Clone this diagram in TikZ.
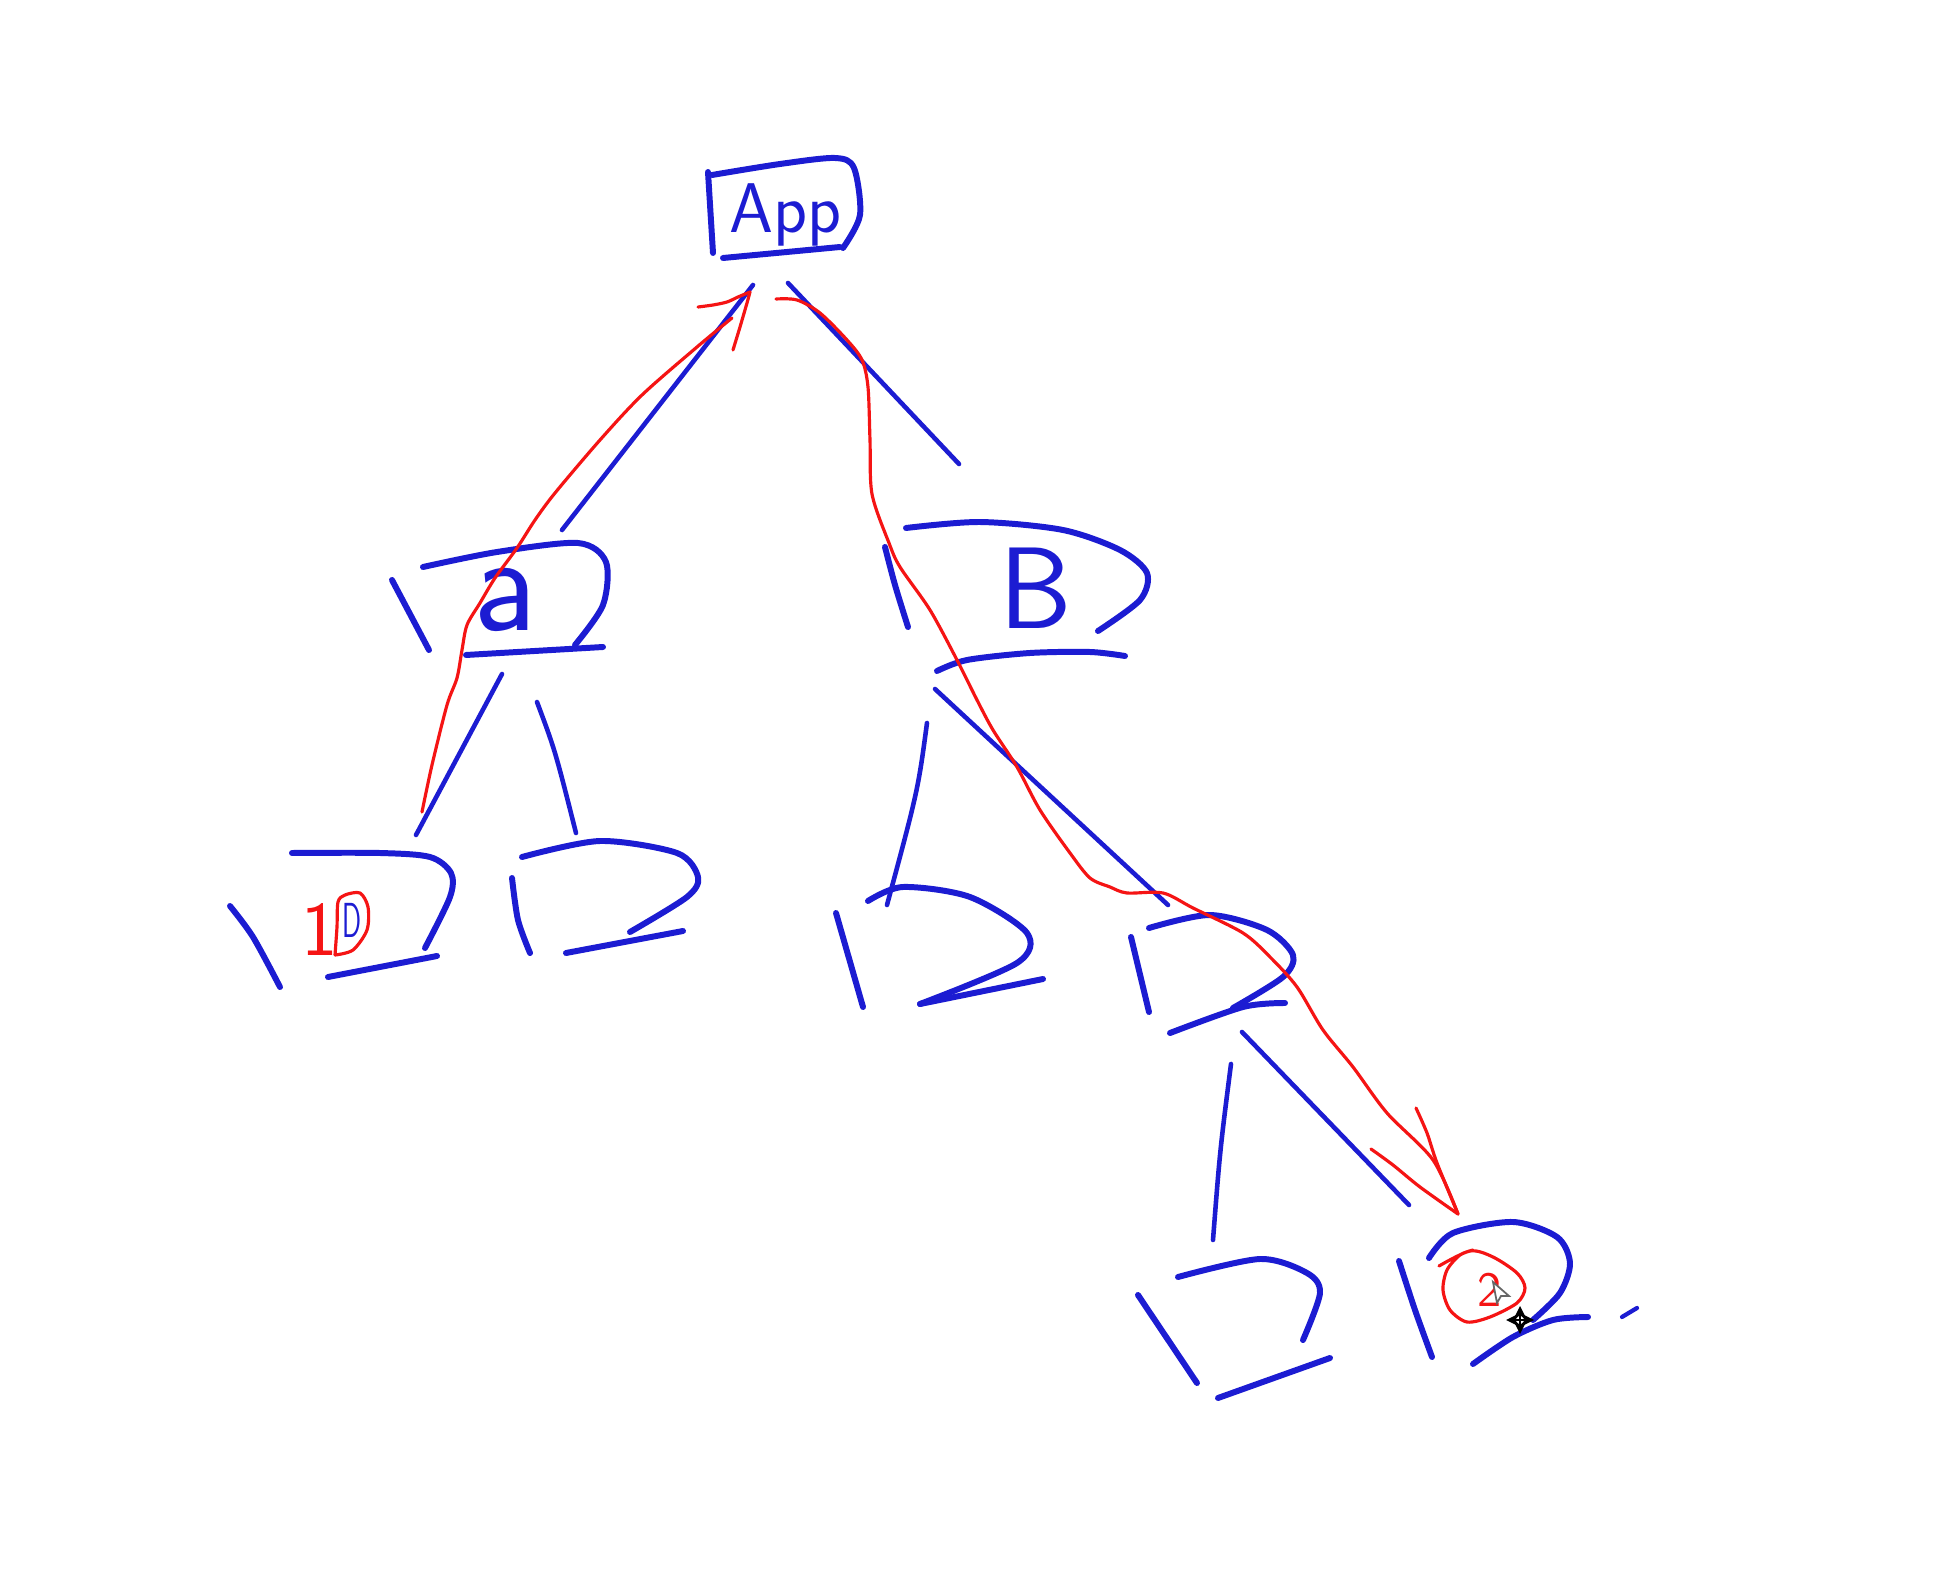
\documentclass[tikz,border=0pt]{standalone}
\definecolor{ink}{RGB}{28,28,210}
\definecolor{pen}{RGB}{245,20,20}
\begin{document}
\begin{tikzpicture}[x=0.01cm,y=-0.01cm,
  box/.style={draw=ink,line width=1.7pt,line cap=round,line join=round},
  edge/.style={draw=ink,line width=1.3pt,line cap=round},
  redpen/.style={draw=pen,line width=0.9pt,line cap=round,line join=round},
  hand/.style={inner sep=0pt,anchor=base,font=\sffamily}]
\useasboundingbox[fill=white] (0,0) rectangle (1935,1579);

% ---------- App ----------
\draw[box] (708,172) -- (713,253);
\draw[box] plot[smooth] coordinates {(712,175) (780,164) (835,158) (854,168) (860,215) (843,248)};
\draw[box] (723,258) -- (840,247);
\node[hand,text=ink,font=\sffamily\fontsize{20}{24}\selectfont] (app) at (786,233) {App};

% ---------- A ----------
\draw[box] (392,580) -- (429,650);
\draw[box] plot[smooth] coordinates {(423,567) (497,552) (578,543) (606,562) (603,605) (575,645)};
\draw[box] (466,655) -- (603,647);
\node[hand,text=ink,font=\sffamily\fontsize{40}{44}\selectfont] (a) at (505,630) {a};

% ---------- B ----------
\draw[box] plot[smooth] coordinates {(885,547) (895,585) (908,627)};
\draw[box] plot[smooth] coordinates {(906,528) (980,522) (1063,530) (1120,550) (1147,573) (1140,600) (1098,631)};
\draw[box] plot[smooth] coordinates {(937,671) (967,660) (1030,653) (1090,652) (1125,656)};
\node[hand,text=ink,font=\sffamily\fontsize{33}{38}\selectfont] (b) at (1036,628) {B};

% ---------- leaf D (under A, left) ----------
\draw[box] plot[smooth] coordinates {(230,906) (253,937) (280,987)};
\draw[box] plot[smooth] coordinates {(292,853) (380,853) (430,857) (451,873) (450,897) (425,948)};
\draw[box] (328,977) -- (437,956);
\node[hand,text=ink,font=\sffamily\fontsize{14}{16}\selectfont] (d) at (352,937) {\scalebox{0.55}[1]{D}};

% ---------- leaf under A, right ----------
\draw[box] plot[smooth] coordinates {(512,878) (518,920) (530,953)};
\draw[box] plot[smooth] coordinates {(522,857) (600,841) (677,853) (698,877) (687,897) (630,932)};
\draw[box] (566,953) -- (683,931);

% ---------- leaf under B, left ----------
\draw[box] (836,913) -- (863,1007);
\draw[box] plot[smooth] coordinates {(868,901) (903,887) (970,897) (1027,933) (1017,963) (920,1004)};
\draw[box] (920,1004) -- (1043,979);

% ---------- node under B, right ----------
\draw[box] (1131,937) -- (1149,1012);
\draw[box] plot[smooth] coordinates {(1149,928) (1210,915) (1267,930) (1293,955) (1283,977) (1233,1008)};
\draw[box] plot[smooth] coordinates {(1170,1033) (1243,1007) (1285,1003)};

% ---------- bottom-left leaf ----------
\draw[box] (1138,1295) -- (1197,1383);
\draw[box] plot[smooth] coordinates {(1178,1277) (1260,1259) (1307,1273) (1320,1293) (1303,1340)};
\draw[box] (1218,1398) -- (1330,1358);

% ---------- bottom-right leaf ----------
\draw[box] plot[smooth] coordinates {(1399,1261) (1415,1310) (1432,1357)};
\draw[box] plot[smooth] coordinates {(1429,1258) (1453,1233) (1513,1222) (1557,1237) (1570,1263) (1560,1293) (1533,1320)};
\draw[box] plot[smooth] coordinates {(1473,1364) (1513,1337) (1553,1320) (1588,1317)};
\draw[box,line width=1.2pt] (1622,1317) -- (1637,1308);

% ---------- blue connectors ----------
\coordinate (appL) at (753,285);  \coordinate (aTop) at (562,530);
\coordinate (appR) at (788,283);  \coordinate (bTop) at (959,464);
\coordinate (aL) at (502,674);    \coordinate (dTop) at (416,835);
\coordinate (aR) at (537,702);    \coordinate (eTop) at (576,833);
\coordinate (bL) at (927,723);    \coordinate (fTop) at (887,905);
\coordinate (bR) at (935,689);    \coordinate (cTop) at (1168,905);
\coordinate (cL) at (1231,1064);  \coordinate (gTop) at (1213,1240);
\coordinate (cR) at (1242,1032);  \coordinate (hTop) at (1409,1205);
\draw[edge] (appL) -- (aTop);
\draw[edge] (appR) -- (bTop);
\draw[edge] (aL) -- (dTop);
\draw[edge] (aR) .. controls (555,750) .. (eTop);
\draw[edge] (bL) .. controls (918,790) .. (fTop);
\draw[edge] (bR) -- (cTop);
\draw[edge] (cL) .. controls (1220,1150) .. (gTop);
\draw[edge] (cR) -- (hTop);

% ---------- red annotations ----------
\draw[redpen] plot[smooth] coordinates {(422,812) (432,765) (447,705) (457,678) (462,650) (467,625) (480,603) (495,578) (517,548) (535,520) (555,493) (600,440) (642,395) (697,347) (732,318)};
\draw[redpen] plot[smooth] coordinates {(698,307) (713,305) (727,302) (738,297) (750,292)};
\draw[redpen] plot[smooth] coordinates {(733,350) (740,327) (747,303) (750,292)};

\draw[redpen] plot[smooth] coordinates {(776,299) (797,300) (820,313) (847,340) (862,360) (868,387) (870,440) (872,494) (889,543) (900,567) (930,610) (957,660) (977,700) (993,730) (1017,767) (1040,810) (1070,853) (1090,878) (1110,887) (1127,893) (1163,893) (1193,908) (1243,933) (1270,957) (1297,987) (1323,1030) (1353,1067) (1387,1113) (1433,1160) (1458,1214)};
\draw[redpen] plot[smooth] coordinates {(1371,1149) (1393,1165) (1420,1187) (1458,1214)};
\draw[redpen] plot[smooth] coordinates {(1416,1108) (1427,1133) (1437,1163) (1458,1214)};

\node[hand,text=pen,font=\sffamily\fontsize{22}{26}\selectfont] (one) at (320,955) {1};
\draw[redpen] plot[smooth] coordinates {(335,955) (353,950) (367,930) (368,907) (360,893) (345,895) (338,902) (337,927) (335,955)};

\node[hand,text=pen,font=\sffamily\fontsize{14}{16}\selectfont] (two) at (1490,1306) {2};
\draw[redpen] plot[smooth] coordinates {(1439,1266) (1470,1251) (1493,1257) (1517,1273) (1525,1288) (1517,1303) (1490,1317) (1467,1322) (1450,1310) (1443,1290) (1447,1270) (1460,1255) (1473,1250)};

% ---------- cursors ----------
\draw[black!60,line width=0.5pt,fill=white] (1493,1282) -- (1509,1296) -- (1501,1296) -- (1497,1303) -- cycle;
\draw[black,line width=0.8pt,<->,>=stealth] (1506,1320) -- (1534,1320);
\draw[black,line width=0.8pt,<->,>=stealth] (1520,1306) -- (1520,1334);
\end{tikzpicture}
\end{document}
